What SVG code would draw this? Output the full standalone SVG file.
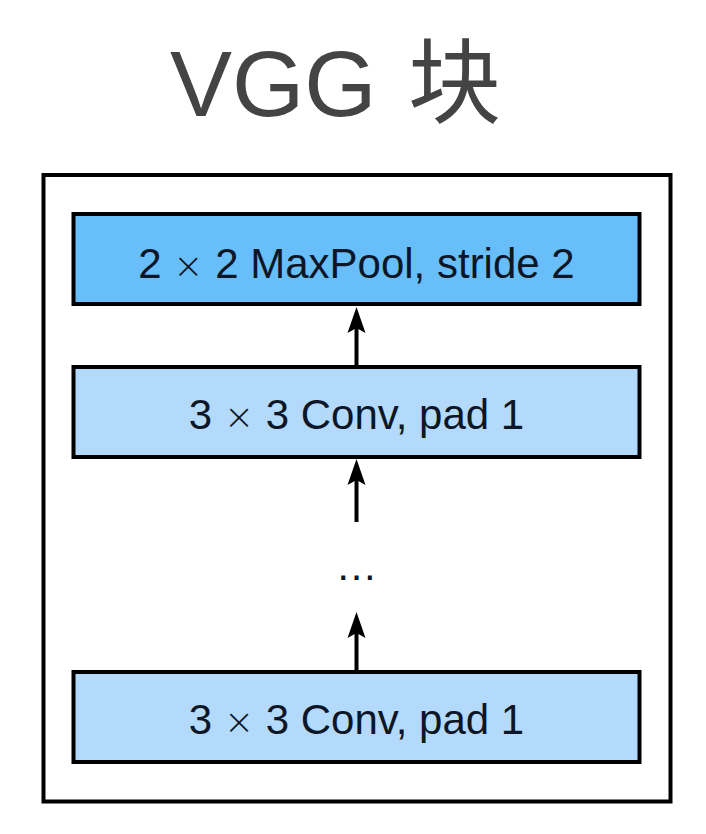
<svg xmlns="http://www.w3.org/2000/svg" width="706" height="834" viewBox="0 0 706 834">
<style>
.box{stroke:#000;stroke-width:4}
.pool{fill:#68BEF9}
.conv{fill:#B4DAFB}
.lbl{font-family:"Liberation Sans",Arial,sans-serif;font-size:42px;fill:#0d1626;text-anchor:middle}
.x{font-size:36px;font-family:"DejaVu Sans",sans-serif;font-weight:200}
.title{font-family:"Liberation Sans","Noto Sans CJK SC",sans-serif;font-size:93px;fill:#444}
.conn{stroke:#000;stroke-width:4;fill:none}
</style>
<rect width="706" height="834" fill="#fff"/>
<text class="title" x="170" y="116">VGG <tspan x="408">块</tspan></text>
<g id="outer">
<rect x="43.5" y="175" width="627" height="626.5" fill="none" stroke="#000" stroke-width="4"/>
</g>
<g id="maxpool">
<rect class="box pool" x="73.5" y="214" width="566" height="90"/>
<text class="lbl" x="356.5" y="278">2 <tspan class="x">×</tspan> 2 MaxPool, stride 2</text>
</g>
<g id="conv2">
<rect class="box conv" x="73.5" y="367" width="566" height="90"/>
<text class="lbl" x="356.5" y="429">3 <tspan class="x">×</tspan> 3 Conv, pad 1</text>
</g>
<g id="ellipsis">
<text class="lbl" x="356.5" y="580" font-size="44px">…</text>
</g>
<g id="conv1">
<rect class="box conv" x="73.5" y="672" width="566" height="90"/>
<text class="lbl" x="356.5" y="734">3 <tspan class="x">×</tspan> 3 Conv, pad 1</text>
</g>
<g id="connectors">
<path class="conn" d="M356.5,365 V320" />
<path d="M356.5,307 L347.5,333 L356.5,328 L365.5,333 Z" fill="#000"/>
<path class="conn" d="M356.5,522 V472" />
<path d="M356.5,459 L347.5,485 L356.5,480 L365.5,485 Z" fill="#000"/>
<path class="conn" d="M356.5,670 V625" />
<path d="M356.5,612 L347.5,638 L356.5,633 L365.5,638 Z" fill="#000"/>
</g>
</svg>
